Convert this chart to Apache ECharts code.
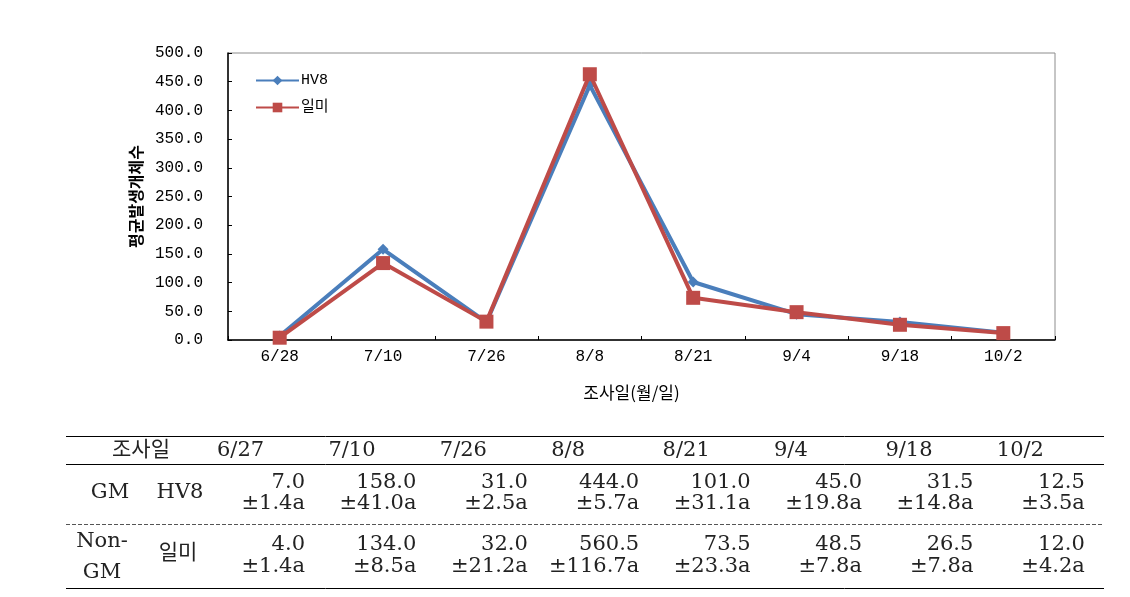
<!DOCTYPE html>
<html>
<head>
<meta charset="utf-8">
<script src="https://cdn.jsdelivr.net/npm/echarts@6/dist/echarts.min.js"></script>
<style>
html,body{margin:0;padding:0;background:#fff;}
#main{width:1130px;height:597px;}
</style>
</head>
<body>
<div id="main"></div>
<script>
// ---- chart data ----
const categories = ['6/28','7/10','7/26','8/8','8/21','9/4','9/18','10/2'];
const hv8Values = [7.0, 158.0, 31.0, 444.0, 101.0, 45.0, 31.5, 12.5];
const ilmiValues = [4.0, 134.0, 32.0, 463.0, 73.5, 48.5, 26.5, 12.0];
const yTicks = [0, 50, 100, 150, 200, 250, 300, 350, 400, 450, 500];

// ---- table data ----
const tableDates = ['6/27','7/10','7/26','8/8','8/21','9/4','9/18','10/2'];
const hv8Means = ['7.0','158.0','31.0','444.0','101.0','45.0','31.5','12.5'];
const hv8Errs = ['±1.4a','±41.0a','±2.5a','±5.7a','±31.1a','±19.8a','±14.8a','±3.5a'];
const ilmiMeans = ['4.0','134.0','32.0','560.5','73.5','48.5','26.5','12.0'];
const ilmiErrs = ['±1.4a','±8.5a','±21.2a','±116.7a','±23.3a','±7.8a','±7.8a','±4.2a'];

const monoFont = '"Liberation Mono", "Noto Sans CJK KR", monospace';
const cjkFont = '"Noto Sans CJK KR", "DejaVu Sans", sans-serif';
const serifFont = '"DejaVu Serif", "Noto Sans CJK KR", serif';

// table layout
const T = {left: 66, right: 1104, top: 436, headBottom: 464, mid: 524, bottom: 588,
  colStep: 111.4, headLeft0: 217, valRight0: 305, fs: 21};

function tableGraphics() {
  const g = [];
  const line = (y, dashed) => ({type:'line', shape:{x1:T.left, y1:y, x2:T.right, y2:y},
    style:{stroke: dashed ? '#555' : '#000', lineWidth: 1, lineDash: dashed ? [4,2] : null}, silent:true});
  g.push(line(T.top + 0.5), line(T.headBottom + 0.5), line(T.mid + 0.5, true), line(T.bottom + 0.5));
  const txt = (x, y, s, align) => ({type:'text', x:x, y:y,
    style:{text:s, fill:'#222', font: T.fs + 'px ' + serifFont, textAlign: align, textVerticalAlign:'middle'}, silent:true});
  g.push(txt(141, 451, '조사일', 'center'));
  tableDates.forEach((d, i) => g.push(txt(T.headLeft0 + i * T.colStep, 451, d, 'left')));
  g.push(txt(110, 493, 'GM', 'center'), txt(180, 493, 'HV8', 'center'));
  g.push(txt(102, 542, 'Non-', 'center'), txt(102, 573, 'GM', 'center'), txt(178, 554, '일미', 'center'));
  hv8Means.forEach((v, i) => g.push(txt(T.valRight0 + i * T.colStep, 483, v, 'right')));
  hv8Errs.forEach((v, i) => g.push(txt(T.valRight0 + i * T.colStep, 504, v, 'right')));
  ilmiMeans.forEach((v, i) => g.push(txt(T.valRight0 + i * T.colStep, 545, v, 'right')));
  ilmiErrs.forEach((v, i) => g.push(txt(T.valRight0 + i * T.colStep, 567, v, 'right')));
  return g;
}

const chart = echarts.init(document.getElementById('main'), null, {renderer:'canvas'});
chart.setOption({
  animation: false,
  backgroundColor: '#fff',
  grid: {left: 228, right: 75, top: 53, bottom: 257, show: true, borderColor: '#8c8c8c', borderWidth: 1, containLabel: false},
  legend: {
    orient: 'vertical', left: 250, top: 68, itemWidth: 43, itemHeight: 12, itemGap: 12,
    textStyle: {fontFamily: monoFont, fontSize: 15, color: '#000', padding: [0,0,0,-3]},
    data: ['HV8', '일미']
  },
  xAxis: {
    type: 'category', data: categories, boundaryGap: true,
    name: '조사일(월/일)', nameLocation: 'middle', nameGap: 44,
    nameTextStyle: {fontFamily: cjkFont, fontSize: 17, color: '#000', padding: [0, 20, 0, 0]},
    axisLine: {lineStyle: {color: '#000', width: 1.5}},
    axisTick: {show: true, inside: true, length: 4, lineStyle: {color: '#000'}},
    axisLabel: {fontFamily: monoFont, fontSize: 16, color: '#000', margin: 9},
    splitLine: {show: false}
  },
  yAxis: {
    type: 'value', min: yTicks[0], max: yTicks[yTicks.length - 1], interval: yTicks[1] - yTicks[0],
    name: '평균발생개체수', nameLocation: 'middle', nameGap: 70, nameRotate: 90,
    nameTextStyle: {fontFamily: cjkFont, fontSize: 16, color: '#000', fontWeight: 'bold'},
    axisLine: {show: true, lineStyle: {color: '#000', width: 1.5}},
    axisTick: {show: true, inside: true, length: 4, lineStyle: {color: '#000'}},
    axisLabel: {fontFamily: monoFont, fontSize: 16, color: '#000', margin: 25,
      formatter: v => v.toFixed(1)},
    splitLine: {show: false}
  },
  series: [
    {name: 'HV8', type: 'line', data: hv8Values, symbol: 'diamond', symbolSize: 11,
      lineStyle: {color: '#4a7ebb', width: 4}, itemStyle: {color: '#4a7ebb'}, z: 2},
    {name: '일미', type: 'line', data: ilmiValues, symbol: 'rect', symbolSize: 14,
      lineStyle: {color: '#be4b48', width: 4}, itemStyle: {color: '#be4b48'}, z: 3}
  ],
  graphic: tableGraphics()
});
</script>
</body>
</html>
